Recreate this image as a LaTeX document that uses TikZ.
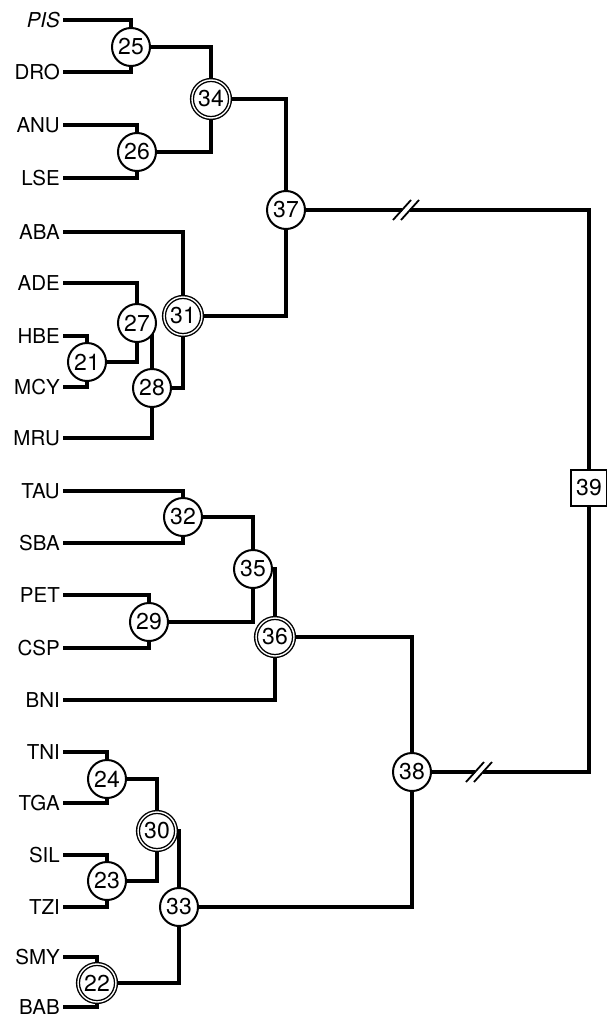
\documentclass[tikz,border=0pt]{standalone}
\usepackage{fontspec}
\setmainfont{TeX Gyre Heros}
\usetikzlibrary{backgrounds}

\begin{document}
\begin{tikzpicture}[
  x=1pt, y=-1pt,
  taxon/.style={anchor=east, inner xsep=3pt, inner ysep=0pt, font=\fontsize{20.5}{22}\selectfont},
  clus/.style={circle, draw, line width=2pt, fill=white, minimum size=38pt, inner sep=0pt, font=\fontsize{23}{24}\selectfont},
  dclus/.style={clus, double, double distance=1.4pt, line width=1.4pt},
  rootbox/.style={rectangle, draw, line width=2pt, fill=white, minimum size=36pt, inner sep=0pt, font=\fontsize{23}{24}\selectfont},
  link/.style={line width=3.6pt},
  cut/.style={line width=1.8pt}
]
\useasboundingbox (0,0) rectangle (607,1017);

% taxa
\foreach \n/\t/\y in {pis/{\textit{PIS}}/20, dro/DRO/72, anu/ANU/125, lse/LSE/178,
    aba/ABA/232, ade/ADE/283, hbe/HBE/336, mcy/MCY/387, mru/MRU/438,
    tau/TAU/491, sba/SBA/543, pet/PET/595, csp/CSP/648, bni/BNI/700,
    tni/TNI/752, tga/TGA/803, sil/SIL/855, tzi/TZI/907, smy/SMY/957, bab/BAB/1007}
  \node[taxon] (\n) at (63,\y) {\t};

% clusters
\node[clus]  (n21) at (87,362)  {21};
\node[dclus] (n22) at (97,983)  {22};
\node[clus]  (n23) at (107,881) {23};
\node[clus]  (n24) at (107,779) {24};
\node[clus]  (n25) at (131,47)  {25};
\node[clus]  (n26) at (137,152) {26};
\node[clus]  (n27) at (137,323) {27};
\node[clus]  (n28) at (152,388) {28};
\node[clus]  (n29) at (149,622) {29};
\node[dclus] (n30) at (157,831) {30};
\node[dclus] (n31) at (183,316) {31};
\node[clus]  (n32) at (183,517) {32};
\node[clus]  (n33) at (179,907) {33};
\node[dclus] (n34) at (211,99)  {34};
\node[clus]  (n35) at (253,569) {35};
\node[dclus] (n36) at (275,637) {36};
\node[clus]  (n37) at (286,210) {37};
\node[clus]  (n38) at (412,772) {38};
\node[rootbox] (n39) at (589,488) {39};

\coordinate (brkA) at (406,210);
\coordinate (brkB) at (479,772);

\begin{scope}[on background layer]
\draw[link] (pis.east) -| (n25);
\draw[link] (dro.east) -| (n25);
\draw[link] (anu.east) -| (n26);
\draw[link] (lse.east) -| (n26);
\draw[link] (n25) -| (n34);
\draw[link] (n26) -| (n34);
\draw[link] (aba.east) -| (n31);
\draw[link] (ade.east) -| (n27);
\draw[link] (hbe.east) -| (n21);
\draw[link] (mcy.east) -| (n21);
\draw[link] (n21) -| (n27);
\draw[link] (n27) -| (n28);
\draw[link] (mru.east) -| (n28);
\draw[link] (n28) -| (n31);
\draw[link] (n34) -| (n37);
\draw[link] (n31) -| (n37);
\draw[link] (tau.east) -| (n32);
\draw[link] (sba.east) -| (n32);
\draw[link] (pet.east) -| (n29);
\draw[link] (csp.east) -| (n29);
\draw[link] (n32) -| (n35);
\draw[link] (n29) -| (n35);
\draw[link] (n35.east) -| (n36);
\draw[link] (bni.east) -| (n36);
\draw[link] (tni.east) -| (n24);
\draw[link] (tga.east) -| (n24);
\draw[link] (sil.east) -| (n23);
\draw[link] (tzi.east) -| (n23);
\draw[link] (n24) -| (n30);
\draw[link] (n23) -| (n30);
\draw[link] (smy.east) -| (n22);
\draw[link] (bab.east) -| (n22);
\draw[link] (n30.east) -| (n33);
\draw[link] (n22) -| (n33);
\draw[link] (n36) -| (n38);
\draw[link] (n33) -| (n38);
% broken branches to the root
\draw[link] (n37) -- ([xshift=-4pt]brkA);
\draw[link] ([xshift=4pt]brkA) -| (n39);
\draw[link] (n38) -- ([xshift=-4pt]brkB);
\draw[link] ([xshift=4pt]brkB) -| (n39);
\end{scope}

\draw[cut] ([shift={(-13,10)}]brkA) -- ++(18,-20);
\draw[cut] ([shift={(-5,10)}]brkA) -- ++(18,-20);
\draw[cut] ([shift={(-13,10)}]brkB) -- ++(18,-20);
\draw[cut] ([shift={(-5,10)}]brkB) -- ++(18,-20);
\end{tikzpicture}
\end{document}
